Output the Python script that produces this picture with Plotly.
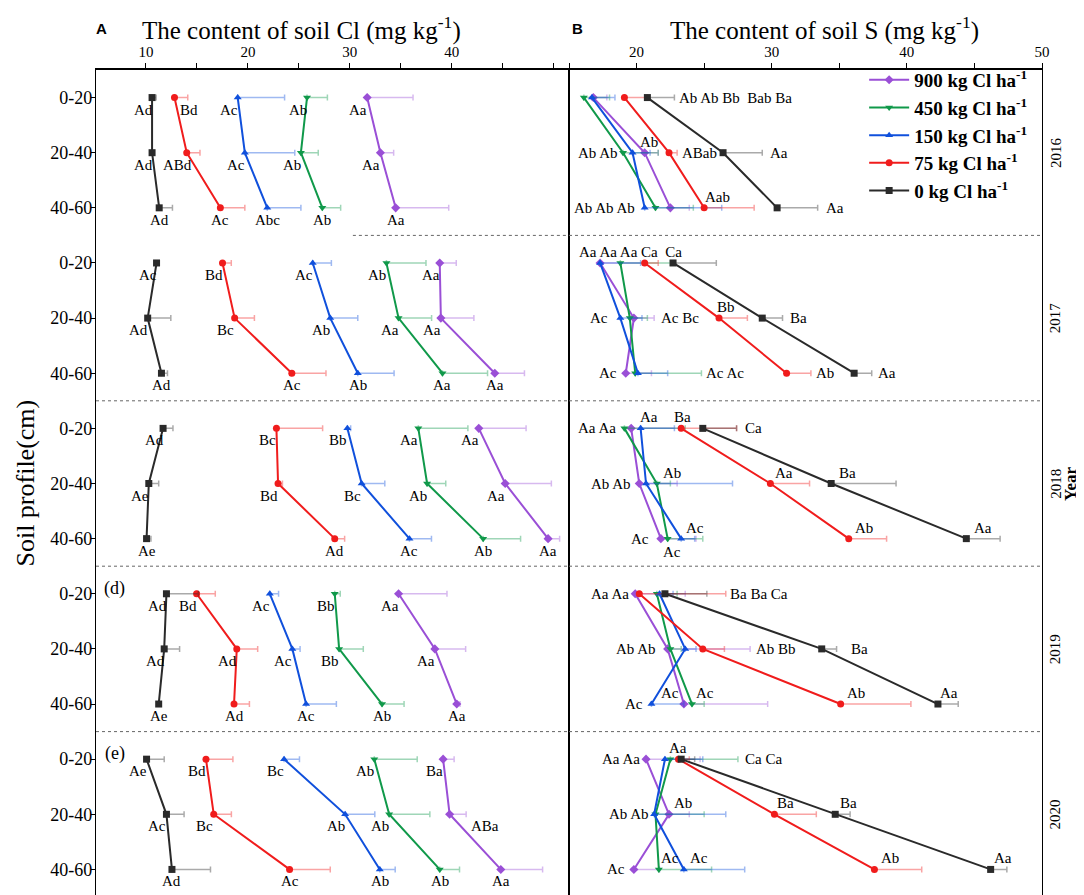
import plotly.graph_objects as go

# depth classes and sampling years (rows of the chart, top to bottom)
depths = ["0-20", "20-40", "40-60"]
years = ["2016", "2017", "2018", "2019", "2020"]

# soil Cl (mg/kg), 5 years x 3 depths, and the + error
cl_0 = [10.6, 10.6, 11.3, 11.04, 10.17, 11.52, 11.68, 10.28, 10.06, 12.01, 11.79, 11.25, 10.06, 12.01, 12.55]
cl_0_sd = [0.4, 0.2, 1.3, 0.11, 2.27, 0.59, 0.97, 0.97, 0.43, 3.13, 1.51, 0.0, 1.73, 1.73, 3.78]
cl_75 = [12.8, 14.0, 17.3, 17.51, 18.7, 24.31, 22.8, 22.96, 28.52, 14.97, 18.91, 18.64, 15.89, 16.65, 24.09]
cl_75_sd = [1.3, 1.3, 2.4, 0.86, 1.94, 3.35, 4.53, 0.43, 0.97, 1.83, 2.05, 1.51, 2.64, 1.73, 3.99]
cl_150 = [19.0, 19.7, 21.9, 26.36, 28.08, 30.78, 29.76, 31.16, 35.85, 22.15, 24.36, 25.71, 23.55, 29.54, 32.94]
cl_150_sd = [4.6, 4.9, 3.3, 1.83, 2.7, 3.56, 0.32, 2.27, 2.16, 0.86, 0.76, 2.97, 1.51, 2.91, 1.51]
cl_450 = [25.8, 25.2, 27.3, 33.59, 34.78, 39.09, 36.72, 37.58, 43.08, 28.52, 28.95, 33.16, 32.4, 33.86, 38.82]
cl_450_sd = [2.0, 1.7, 1.8, 3.88, 3.24, 4.42, 4.86, 1.83, 3.67, 0.54, 2.37, 2.16, 4.21, 3.99, 1.94]
cl_900 = [31.7, 33.0, 34.5, 38.82, 38.93, 44.22, 42.65, 45.24, 49.45, 34.78, 38.34, 40.49, 39.15, 39.79, 44.81]
cl_900_sd = [4.5, 1.3, 5.2, 1.62, 3.24, 2.91, 4.64, 4.53, 1.13, 4.75, 3.02, 0.32, 1.08, 1.62, 4.1]

# significance letters for the Cl panel
cl_0_tag = ["Ad", "Ad", "Ad", "Ac", "Ad", "Ad", "Ad", "Ae", "Ae", "Ad", "Ad", "Ae", "Ae", "Ac", "Ad"]
cl_75_tag = ["Bd", "ABd", "Ac", "Bd", "Bc", "Ac", "Bc", "Bd", "Ad", "Bd", "Ad", "Ad", "Bd", "Bc", "Ac"]
cl_150_tag = ["Ac", "Ac", "Abc", "Ac", "Ab", "Ab", "Bb", "Bc", "Ac", "Ac", "Ac", "Ac", "Bc", "Ab", "Ab"]
cl_450_tag = ["Ab", "Ab", "Ab", "Ab", "Aa", "Aa", "Aa", "Ab", "Ab", "Bb", "Bb", "Ab", "Ab", "Ab", "Ab"]
cl_900_tag = ["Aa", "Aa", "Aa", "Aa", "Aa", "Aa", "Aa", "Aa", "Aa", "Aa", "Aa", "Aa", "Ba", "ABa", "Aa"]

# soil S (mg/kg) and the + error
s_0 = [20.8, 26.4, 30.4, 22.7, 29.3, 36.1, 24.9, 34.4, 44.4, 22.1, 33.7, 42.3, 23.3, 34.7, 46.2]
s_0_sd = [2.0, 2.9, 3.0, 3.2, 1.5, 1.3, 2.5, 4.8, 2.5, 3.1, 1.1, 1.5, 1.0, 1.1, 1.2]
s_75 = [19.1, 22.4, 25.0, 20.6, 26.1, 31.1, 23.3, 29.9, 35.7, 20.2, 24.9, 35.1, 23.1, 30.2, 37.6]
s_75_sd = [1.7, 0.6, 3.7, 1.0, 2.1, 1.8, 4.1, 2.9, 2.8, 6.4, 1.6, 5.2, 0.8, 3.1, 3.5]
s_150 = [16.7, 19.7, 20.6, 17.3, 18.8, 20.1, 20.3, 20.7, 23.3, 21.7, 23.6, 21.1, 22.1, 21.3, 23.5]
s_150_sd = [1.7, 1.3, 5.7, 3.0, 1.6, 2.2, 2.5, 6.4, 1.0, 1.0, 0.8, 2.4, 2.8, 5.3, 4.5]
s_450 = [16.1, 19.0, 21.4, 18.8, 19.5, 19.9, 19.1, 21.5, 22.3, 21.5, 22.5, 24.1, 22.5, 21.4, 21.65]
s_450_sd = [1.9, 2.6, 2.8, 3.7, 1.3, 4.9, 4.5, 1.0, 2.6, 1.5, 0.8, 0.9, 5.0, 3.6, 3.9]
s_900 = [16.8, 20.6, 22.5, 17.3, 19.8, 19.2, 19.6, 20.2, 21.8, 19.9, 22.3, 23.5, 20.7, 22.4, 19.8]
s_900_sd = [1.0, 1.0, 1.4, 3.2, 1.5, 1.9, 3.6, 2.8, 2.6, 3.7, 6.1, 6.2, 4.0, 1.5, 1.9]

# letters of the S panel: (row, x in mg/kg, text, placement)
NB = "\u00a0"
s_tags = [
    (0, 23.0, "Ab Ab Bb" + NB * 2 + "Bab Ba", "l"),
    (1, 18.8, "Ab Ab", "r"), (1, 20.9, "Ab", "u"), (1, 23.2, "ABab", "l"), (1, 29.7, "Aa", "l"),
    (2, 20.0, "Ab Ab Ab", "r"), (2, 26.0, "Aab", "u"), (2, 33.9, "Aa", "l"),
    (3, 15.6, "Aa Aa Aa Ca" + NB * 2 + "Ca", "ul"),
    (4, 18.0, "Ac", "r"), (4, 21.65, "Ac Bc", "l"), (4, 26.6, "Bb", "u"), (4, 31.2, "Ba", "l"),
    (5, 18.7, "Ac", "r"), (5, 25.0, "Ac Ac", "l"), (5, 33.1, "Ab", "l"), (5, 37.7, "Aa", "l"),
    (6, 18.65, "Aa Aa", "r"), (6, 20.9, "Aa", "u"), (6, 23.4, "Ba", "u"), (6, 27.9, "Ca", "l"),
    (7, 19.7, "Ab Ab", "r"), (7, 22.65, "Ab", "u"), (7, 30.9, "Aa", "u"), (7, 35.6, "Ba", "u"),
    (8, 21.1, "Ac", "r"), (8, 22.6, "Ac", "d"), (8, 24.3, "Ac", "u"), (8, 36.8, "Ab", "u"), (8, 45.6, "Aa", "u"),
    (9, 19.6, "Aa Aa", "r"), (9, 26.8, "Ba Ba Ca", "l"),
    (10, 21.6, "Ab Ab", "r"), (10, 28.7, "Ab Bb", "l"), (10, 35.7, "Ba", "l"),
    (11, 20.65, "Ac", "r"), (11, 22.45, "Ac", "u"), (11, 25.1, "Ac", "u"), (11, 36.2, "Ab", "u"), (11, 43.1, "Aa", "u"),
    (12, 20.4, "Aa Aa", "r"), (12, 23.1, "Aa", "u"), (12, 27.9, "Ca Ca", "l"),
    (13, 21.1, "Ab Ab", "r"), (13, 23.4, "Ab", "u"), (13, 31.05, "Ba", "u"), (13, 35.7, "Ba", "u"),
    (14, 19.3, "Ac", "r"), (14, 22.5, "Ac", "u"), (14, 24.6, "Ac", "u"), (14, 38.75, "Ab", "u"), (14, 47.1, "Aa", "u"),
]

SERIF = "Liberation Serif"

def faded(hex_color, a=0.4):
    h = hex_color.lstrip("#")
    r, g, b = int(h[0:2], 16), int(h[2:4], 16), int(h[4:6], 16)
    return f"rgba({r},{g},{b},{a})"

series = [
    ("900 kg Cl ha<sup>-1</sup>", "#9A4FD6", "diamond", cl_900, cl_900_sd, cl_900_tag, s_900, s_900_sd),
    ("450 kg Cl ha<sup>-1</sup>", "#10994A", "triangle-down", cl_450, cl_450_sd, cl_450_tag, s_450, s_450_sd),
    ("150 kg Cl ha<sup>-1</sup>", "#1050DC", "triangle-up", cl_150, cl_150_sd, cl_150_tag, s_150, s_150_sd),
    ("75 kg Cl ha<sup>-1</sup>", "#F01C1C", "circle", cl_75, cl_75_sd, cl_75_tag, s_75, s_75_sd),
    ("0 kg Cl ha<sup>-1</sup>", "#2A2A2A", "square", cl_0, cl_0_sd, cl_0_tag, s_0, s_0_sd),
]

fig = go.Figure()
annots = []

for name, color, sym, cl, cl_sd, tags, s, s_sd in series:
    for k in range(len(years)):
        rows = list(range(3 * k, 3 * k + 3))
        for vals, sd, xa, ya in [(cl, cl_sd, "x", "y"), (s, s_sd, "x2", "y2")]:
            fig.add_trace(go.Scatter(
                x=vals[3 * k:3 * k + 3], y=rows, xaxis=xa, yaxis=ya,
                mode="lines+markers", name=name, legendgroup=name,
                showlegend=(xa == "x2" and k == 0),
                line=dict(color=color, width=2),
                marker=dict(symbol=sym, size=7, color=color),
                error_x=dict(type="data", symmetric=False, array=sd[3 * k:3 * k + 3],
                             arrayminus=[0, 0, 0], color=faded(color), thickness=1.5, width=3),
            ))
    # letters under the Cl points
    for i, t in enumerate(tags):
        dx = -9 if i % 3 < 2 else 0
        if t == "Bd" and i == 0:
            dx = 15
        if t == "ABa":
            dx = 35
        annots.append(dict(x=cl[i], y=i, xref="x", yref="y", text=t, showarrow=False,
                           xshift=dx, yshift=-12, font=dict(family=SERIF, size=15, color="black")))

for row, xv, t, how in s_tags:
    a = dict(x=xv, y=row, xref="x2", yref="y2", text=t, showarrow=False,
             font=dict(family=SERIF, size=15, color="black"))
    if how == "l":
        a.update(xanchor="left")
    elif how == "r":
        a.update(xanchor="right")
    elif how == "u":
        a.update(xanchor="center", yshift=11)
    elif how == "ul":
        a.update(xanchor="left", yshift=11)
    elif how == "d":
        a.update(xanchor="center", yshift=-13)
    annots.append(a)

# panel titles, letters, side labels
annots += [
    dict(x=0.2175, y=1.0507, xref="paper", yref="paper", showarrow=False, xanchor="center", yanchor="middle",
         text="The content of soil Cl (mg kg<sup>-1</sup>)", font=dict(family=SERIF, size=25, color="black")),
    dict(x=0.7696, y=1.0507, xref="paper", yref="paper", showarrow=False, xanchor="center", yanchor="middle",
         text="The content of soil S (mg kg<sup>-1</sup>)", font=dict(family=SERIF, size=25, color="black")),
    dict(x=0.006, y=1.0507, xref="paper", yref="paper", showarrow=False, xanchor="center", yanchor="middle",
         text="<b>A</b>", font=dict(family="Liberation Sans", size=15, color="black")),
    dict(x=0.5085, y=1.0507, xref="paper", yref="paper", showarrow=False, xanchor="center", yanchor="middle",
         text="<b>B</b>", font=dict(family="Liberation Sans", size=15, color="black")),
    dict(x=-0.075, y=7, xref="paper", yref="y", showarrow=False, xanchor="center", yanchor="middle",
         text="Soil profile(cm)", textangle=-90, font=dict(family=SERIF, size=26, color="black")),
    dict(x=1.030, y=7, xref="paper", yref="y", showarrow=False, xanchor="center", yanchor="middle",
         text="<b>Year</b>", textangle=-90, font=dict(family=SERIF, size=17, color="black")),
    dict(x=0.04, y=8.9, xref="x domain", yref="y", showarrow=False, text="(d)", xanchor="center",
         font=dict(family=SERIF, size=18, color="black")),
    dict(x=0.04, y=11.9, xref="x domain", yref="y", showarrow=False, text="(e)", xanchor="center",
         font=dict(family=SERIF, size=18, color="black")),
]
for k, yr in enumerate(years):
    annots.append(dict(x=1.014, y=3 * k + 1, xref="paper", yref="y", showarrow=False, text=yr,
                       xanchor="center", yanchor="middle", textangle=-90,
                       font=dict(family=SERIF, size=15, color="black")))

# dotted separators between years
shapes = []
for b in [2.5, 5.5, 8.5, 11.5]:
    x_start = 30.3 if b == 2.5 else 5.1
    shapes.append(dict(type="line", xref="x", yref="y", x0=x_start, x1=51.5, y0=b, y1=b,
                       line=dict(color="#666", width=1, dash="dot")))
    shapes.append(dict(type="line", xref="x2", yref="y2", x0=15, x1=50, y0=b, y1=b,
                       line=dict(color="#666", width=1, dash="dot")))

axis_common = dict(showline=True, linecolor="black", linewidth=1.5, mirror=True,
                   ticks="outside", ticklen=5, tickwidth=1.2, tickcolor="black",
                   showgrid=False, zeroline=False,
                   minor=dict(tick0=0, dtick=5, ticks="outside", ticklen=5, tickwidth=1.2,
                              tickcolor="black", showgrid=False),
                   tickfont=dict(family=SERIF, size=15, color="black"))

fig.update_layout(
    width=1084, height=895,
    margin=dict(l=88, r=50, t=62, b=4),
    paper_bgcolor="white", plot_bgcolor="white",
    font=dict(family=SERIF, color="black"),
    xaxis=dict(domain=[0, 0.5], range=[5.1, 51.5], side="top", anchor="y",
               tickvals=[10, 20, 30, 40], **axis_common),
    xaxis2=dict(domain=[0.5, 1], range=[15, 50], side="top", anchor="y2",
                tickvals=[20, 30, 40, 50], **axis_common),
    yaxis=dict(range=[14.5, -0.5], anchor="x", tickvals=list(range(15)),
               ticktext=depths * len(years),
               showline=True, linecolor="black", linewidth=1.2, mirror=True,
               ticks="outside", ticklen=4, tickcolor="black", showgrid=False, zeroline=False,
               ticklabelstandoff=-5,
               tickfont=dict(family=SERIF, size=18, color="black")),
    yaxis2=dict(range=[14.5, -0.5], anchor="x2", matches="y", showticklabels=False,
                showline=True, linecolor="black", linewidth=1.2, mirror=True,
                ticks="", showgrid=False, zeroline=False),
    legend=dict(x=0.812, y=1.011, xanchor="left", yanchor="top", bgcolor="rgba(0,0,0,0)",
                font=dict(family=SERIF, size=19, color="black", weight="bold"),
                tracegroupgap=0, itemwidth=40),
    annotations=annots,
    shapes=shapes,
)

fig.write_html("out.html")
